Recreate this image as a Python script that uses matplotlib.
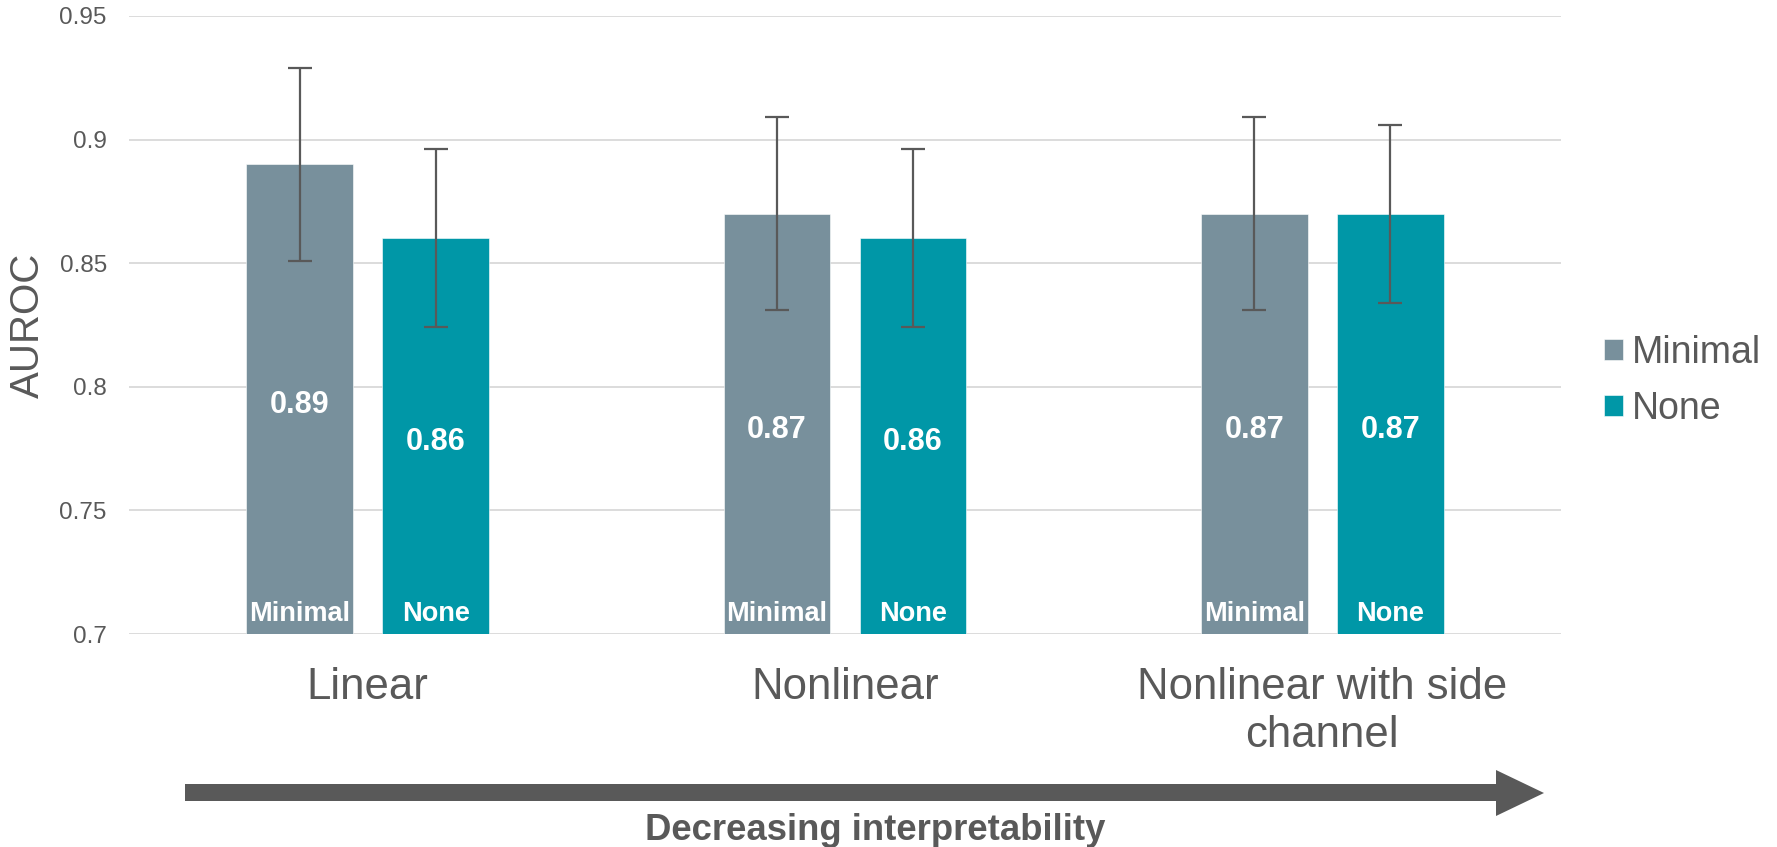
import matplotlib
matplotlib.use("Agg")
import matplotlib.pyplot as plt
import numpy as np
from matplotlib.patches import Polygon

plt.rcParams['font.family'] = ['Liberation Sans', 'DejaVu Sans']

categories = ["Linear", "Nonlinear", "Nonlinear with side\nchannel"]
series_names = ["Minimal", "None"]
minimal_vals = [0.89, 0.87, 0.87]
none_vals = [0.86, 0.86, 0.87]
minimal_err = [0.039, 0.039, 0.039]
none_err = [0.036, 0.036, 0.036]
yticks = [0.7, 0.75, 0.8, 0.85, 0.9, 0.95]
ytick_labels = ["0.7", "0.75", "0.8", "0.85", "0.9", "0.95"]

C_MIN = "#78909C"
C_NONE = "#0097A7"
GRAY = "#595959"

W, H = 1777, 847
fig = plt.figure(figsize=(W / 100, H / 100), dpi=100)
ax = fig.add_axes([129 / W, 1 - 634 / H, (1561 - 129) / W, (634 - 16) / H])

x = np.arange(len(categories))
off = 0.1425
bw = 0.224

series = [(minimal_vals, minimal_err, C_MIN, series_names[0], -off),
          (none_vals, none_err, C_NONE, series_names[1], off)]

for vals, errs, col, name, o in series:
    ax.bar(x + o, np.array(vals) - 0.7, bw, bottom=0.7, color=col,
           label=name, zorder=2, edgecolor='white', linewidth=0.4)
    ax.errorbar(x + o, vals, yerr=errs, fmt='none', ecolor=GRAY,
                elinewidth=1.6, capsize=8.5, capthick=1.6, zorder=3)
    for xi, v in zip(x + o, vals):
        ax.annotate(f"{v:.2f}", (xi, (v + 0.7) / 2), xytext=(0, -6),
                    textcoords='offset pixels', ha='center', va='center',
                    color='white', fontsize=22, fontweight='bold', zorder=4)
        ax.annotate(name, (xi, 0.7), xytext=(0, 13), textcoords='offset pixels',
                    ha='center', va='baseline', color='white', fontsize=19.5,
                    fontweight='bold', zorder=4)

ax.set_xlim(-0.5, 2.5)
ax.set_ylim(0.7, 0.95)
ax.set_yticks(yticks)
ax.set_yticklabels(ytick_labels)
ax.set_xticks(x)
ax.set_xticklabels(categories, linespacing=1.22)
ax.tick_params(axis='y', length=0, pad=16, labelsize=17.5, labelcolor=GRAY)
ax.tick_params(axis='x', length=0, pad=24, labelsize=31.5, labelcolor=GRAY)
for s in ax.spines.values():
    s.set_visible(False)
ax.yaxis.grid(True, color="#D9D9D9", linewidth=1.3, zorder=0)
ax.set_axisbelow(True)

ax.set_ylabel("AUROC", fontsize=29, color=GRAY, va='center')
ax.yaxis.set_label_coords((28 - 129) / (1561 - 129), 0.5)

leg = fig.legend(loc='center left', bbox_to_anchor=(1604 / W, 1 - 381 / H),
                 frameon=False, fontsize=27, handlelength=0.5, handleheight=0.5,
                 handletextpad=0.25, labelspacing=0.53, borderpad=0, borderaxespad=0)
for t in leg.get_texts():
    t.set_color(GRAY)

# arrow (pixel geometry converted to figure fraction)
body_x0, body_x1, tip_x = 185, 1496, 1544
body_y0, body_y1 = 784, 801
head_y0, head_y1 = 770, 816
pts_px = [(body_x0, body_y0), (body_x1, body_y0), (body_x1, head_y0), (tip_x, (head_y0 + head_y1) / 2),
          (body_x1, head_y1), (body_x1, body_y1), (body_x0, body_y1)]
pts = [(px / W, 1 - py / H) for px, py in pts_px]
fig.patches.append(Polygon(pts, closed=True, transform=fig.transFigure,
                           facecolor=GRAY, edgecolor='none'))
fig.text(875 / W, 1 - 830 / H, "Decreasing interpretability", ha='center', va='center',
         fontsize=26.3, fontweight='bold', color=GRAY)

fig.savefig("out.png", dpi=100)
